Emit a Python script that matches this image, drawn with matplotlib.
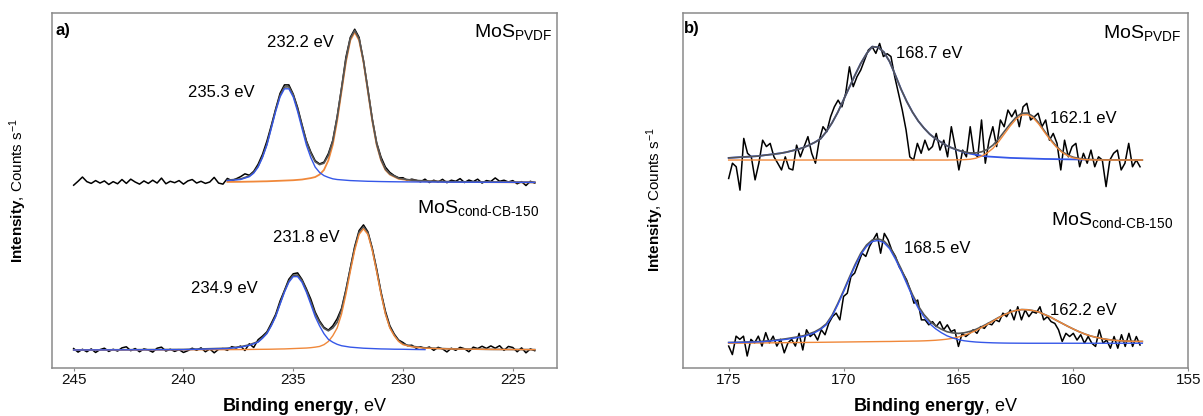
import matplotlib.pyplot as plt
import numpy as np

plt.rcParams['font.family'] = ['Liberation Sans', 'DejaVu Sans']
plt.rcParams['mathtext.fontset'] = 'custom'
plt.rcParams['mathtext.rm'] = 'Liberation Sans'
plt.rcParams['mathtext.bf'] = 'Liberation Sans:bold'
plt.rcParams['mathtext.it'] = 'Liberation Sans:italic'
plt.rcParams['mathtext.default'] = 'regular'

# ----- a) Mo 3d region: intensities above each spectrum's background -----
be_mo = np.linspace(245.0, 224.0, 106)
mo_pvdf_raw = [-0.8, 0.3, 1.5, 0.2, -0.3, 0.5, -0.2, 0.4, -0.6, 0.2, -0.4, 0.8, -0.3, 0.9, 0.1,
               -0.5, 0.4, -0.3, 0.6, -0.2, 1.2, -0.4, 0.3, -0.1, 0.5, -0.5, 0.4, 0.8, -0.2, 0.3,
               -0.3, 0.1, 1.4, -0.2, -0.5,
               1.1, 0.5, 1.0, 1.6, 2.4, 2.0, 3.1, 5.1, 7.9, 11.6, 16.0, 20.7, 25.1, 27.5, 27.5,
               24.9, 21.1, 16.3, 11.7, 8.6, 6.1, 5.2, 5.7, 8.1, 11.8, 18.5, 26.6, 35.3, 40.9, 43.2,
               40.9, 34.2, 26.3, 17.9, 11.2, 7.1, 4.3, 2.8, 1.9, 1.3, 1.3, 0.55, 0.9, 0.6, 0.15,
               0.9, -0.05, 0.6, 0.1, 0.85, -0.1, 0.6, 0.3, 1.05, -0.05, 0.65, 0.2, 0.9, -0.2, 0.5,
               0.25, 1.25, 0.3, 0.6, 0.1, 0.5, -0.4, 0.2, -0.9, 0.3, -0.2]
mo_cb_raw = [0.4, -0.6, 0.2, -0.5, 0.3, -0.7, 0.1, 0.5, -0.4, 0.2, -0.3, 0.6, 0.9, -0.2, 0.4,
             -0.5, 0.3, 0.0, -0.6, 0.5, 0.8, -0.3, 0.2, -0.4, 0.1, -0.7, -0.2, 0.5, -0.1, 0.6,
             -0.5, 0.3, -0.8, 0.2, 0.4,
             -0.1, 0.95, 0.55, 1.1, -0.15, 1.75, 0.7, 2.9, 3.9, 5.1, 7.5, 10.05, 13.8, 16.8, 19.95,
             21.5, 21.75, 19.9, 17.25, 14.35, 10.7, 8.2, 6.4, 5.6, 6.8, 8.8, 11.7, 17.0, 23.1, 29.2,
             33.7, 35.3, 33.35, 28.7, 22.85, 16.3, 10.9, 6.85, 4.5, 2.8, 2.1, 1.2, 1.35, 0.5, 0.9,
             0.4, 0.85, -0.1, 0.75, 0.3, -0.55, 0.5, -0.1, 0.75, 0.35, -0.5, 0.8, 0.4, 1.05, 0.45,
             1.15, 0.5, 1.2, -0.1, 1.0, 0.7, -0.5, 0.6, -0.8, 0.3, -0.2]

be_mo_fit_pvdf = [238.0, 237.4, 237.0, 236.8, 236.6, 236.4, 236.2, 236.0, 235.8, 235.6, 235.4,
                  235.2, 235.0, 234.8, 234.6, 234.4, 234.2, 234.0, 233.8, 233.6, 233.4, 233.2,
                  233.0, 232.8, 232.6, 232.4, 232.2, 232.0, 231.8, 231.6, 231.4, 231.2, 231.0,
                  230.8, 230.6, 230.2, 229.6, 229.0, 228.0, 226.0, 224.0]
mo_pvdf_blue = [0.5, 0.8, 1.6, 2.6, 4.3, 7.0, 10.5, 15.2, 20.0, 24.1, 26.4, 26.4, 24.1, 20.0, 15.2,
                10.5, 7.0, 4.3, 2.8, 1.9, 1.4, 1.0, 0.8, 0.7, 0.6, 0.5, 0.45, 0.4, 0.35, 0.3, 0.28,
                0.25, 0.22, 0.2, 0.18, 0.15, 0.12, 0.1, 0.06, 0.03, 0.0]
mo_pvdf_orange = [0.12, 0.15, 0.2, 0.22, 0.25, 0.28, 0.3, 0.35, 0.4, 0.45, 0.5, 0.55, 0.6, 0.7, 0.8,
                  1.0, 1.2, 1.5, 2.2, 3.5, 6.2, 10.6, 17.4, 25.7, 34.0, 40.1, 42.4, 40.1, 34.0, 25.7,
                  17.4, 10.6, 6.2, 3.5, 2.2, 1.0, 0.5, 0.3, 0.15, 0.05, 0.0]

be_mo_fit_cb = [245.0, 240.0, 238.0, 237.4, 237.0, 236.6, 236.4, 236.2, 236.0, 235.8, 235.6, 235.4,
                235.2, 235.0, 234.8, 234.6, 234.4, 234.2, 234.0, 233.8, 233.6, 233.4, 233.2, 233.0,
                232.8, 232.6, 232.4, 232.2, 232.0, 231.8, 231.6, 231.4, 231.2, 231.0, 230.8, 230.6,
                230.4, 230.2, 230.0, 229.6, 229.0, 228.0, 226.0, 224.0]
mo_cb_blue = [0.0, 0.1, 0.4, 0.8, 1.3, 2.2, 3.3, 4.6, 6.8, 9.4, 12.9, 16.3, 19.1, 20.7, 20.7, 19.1,
              16.3, 12.9, 9.4, 6.8, 4.6, 3.0, 2.2, 1.6, 1.2, 1.0, 0.8, 0.7, 0.6, 0.5, 0.45, 0.4,
              0.35, 0.3, 0.28, 0.25, 0.22, 0.21, 0.2, 0.15, 0.1, 0.05, 0.02, 0.0]
mo_cb_orange = [0.0, 0.05, 0.1, 0.12, 0.15, 0.18, 0.19, 0.2, 0.22, 0.25, 0.28, 0.3, 0.35, 0.4, 0.45,
                0.5, 0.55, 0.65, 0.8, 1.0, 1.5, 2.4, 4.0, 6.2, 10.1, 15.7, 22.1, 28.1, 32.6, 34.2,
                32.6, 28.1, 22.1, 15.7, 10.1, 6.2, 4.0, 2.4, 1.5, 0.9, 0.5, 0.3, 0.15, 0.1]

# ----- b) S 2p region -----
be_s_pvdf = np.linspace(175.0, 157.1, 110)
s_pvdf_raw = [-5.2, -0.9, -1.9, -8.5, 6.1, 1.9, 0.9, -5.6, -0.9, 5.6,
              3.8, 4.7, 0.9, -0.9, -2.8, 0.9, -2.4, -2.8, 4.2, 0.9,
              3.8, 6.6, 1.9, -0.9, 5.6, 9.4, 8.0, 12.2, 15.0, 16.9,
              15.0, 18.8, 26.3, 20.7, 23.5, 25.4, 28.2, 31.0, 32.0, 30.1,
              32.9, 29.2, 30.0, 29.2, 23.5, 18.8, 14.1, 8.5, 0.9, 0.0,
              4.7, 1.9, 5.6, 2.8, 3.8, 7.5, 2.8, 5.6, 0.9, 9.4,
              3.8, -2.8, 2.8, 0.9, 9.4, 1.9, 0.9, 11.3, -0.9, 5.6,
              9.4, 3.8, 11.3, 9.4, 14.1, 12.2, 14.1, 9.4, 15.0, 16.0,
              11.3, 12.2, 13.2, 9.4, 11.3, 5.6, 7.5, 4.7, -2.8, 5.6,
              0.9, 3.8, 4.7, -1.9, 1.9, -0.9, 2.8, -1.9, 0.9, 0.0,
              -7.5, 0.0, 1.9, 2.8, -2.8, -0.9, 4.7, -1.9, 0.0, -1.9]
be_s_cb = np.linspace(175.0, 157.1, 112)
s_cb_raw = [-0.8, -3.2, 2.0, 1.1, 2.0, -3.6, 1.1, 0.1, 2.0, -0.8,
            3.0, 0.1, 2.0, -0.8, 1.1, -2.7, 0.1, 1.1, -0.8, 2.8,
            -1.9, 3.8, 1.9, 2.8, 0.9, 3.8, 2.4, 5.6, 7.5, 8.5,
            6.6, 13.2, 14.1, 18.8, 19.8, 22.6, 25.4, 24.5, 27.3, 29.2,
            31.0, 25.4, 31.0, 29.2, 26.3, 24.5, 21.6, 19.8, 17.9, 15.0,
            11.3, 12.2, 6.6, 6.6, 5.2, 6.1, 4.7, 6.1, 3.8, 5.2,
            3.3, 3.8, -0.9, 2.8, 1.9, 2.8, 3.8, 2.8, 4.7, 4.2,
            5.6, 5.2, 6.6, 6.1, 8.5, 7.5, 9.4, 6.6, 10.3, 6.6,
            9.4, 7.5, 8.9, 8.5, 10.3, 6.6, 7.5, 6.1, 5.6, 3.8,
            0.5, 2.8, 1.9, 2.8, 0.9, 2.4, 0.0, 1.9, 0.0, -0.9,
            3.8, 0.0, 0.9, -1.4, 1.9, -1.4, 2.4, -0.9, 2.8, -0.9,
            1.9, -0.5]

be_s_fit = np.linspace(175.0, 157.0, 73)
s_pvdf_blue = [0.6, 0.7, 0.8, 0.9, 1.0, 1.1, 1.3, 1.5, 1.7, 1.9,
               2.2, 2.6, 3.0, 3.5, 4.2, 5.0, 6.0, 8.0, 10.5, 13.5,
               17.0, 20.5, 24.0, 27.3, 30.0, 32.0, 31.8, 30.5, 27.8, 24.0,
               20.0, 16.5, 13.5, 11.0, 9.0, 7.3, 6.0, 5.0, 4.0, 3.3,
               2.7, 2.2, 1.8, 1.5, 1.2, 1.0, 0.9, 0.8, 0.7, 0.6,
               0.55, 0.5, 0.45, 0.4, 0.35, 0.3, 0.28, 0.25, 0.22, 0.2,
               0.18, 0.15, 0.12, 0.1, 0.08, 0.06, 0.05, 0.04, 0.03, 0.02,
               0.01, 0.0, 0.0]
s_pvdf_orange = [0.0, 0.0, 0.0, 0.0, 0.0, 0.0, 0.0, 0.0, 0.0, 0.0,
                 0.0, 0.0, 0.0, 0.0, 0.0, 0.0, 0.0, 0.0, 0.0, 0.0,
                 0.0, 0.0, 0.0, 0.0, 0.0, 0.0, 0.0, 0.0, 0.0, 0.0,
                 0.0, 0.0, 0.0, 0.0, 0.0, 0.0, 0.0, 0.0, 0.0, 0.03,
                 0.05, 0.1, 0.2, 0.5, 1.1, 2.0, 3.3, 5.2, 7.4, 9.6,
                 11.5, 12.7, 12.8, 11.9, 10.1, 7.8, 5.6, 3.7, 2.2, 1.2,
                 0.6, 0.3, 0.1, 0.05, 0.0, 0.0, 0.0, 0.0, 0.0, 0.0,
                 0.0, 0.0, 0.0]
s_cb_blue = [0.2, 0.22, 0.25, 0.28, 0.32, 0.38, 0.45, 0.6, 0.75, 0.9,
             1.1, 1.35, 1.6, 1.9, 2.4, 3.0, 3.9, 5.2, 7.6, 10.9,
             14.5, 18.2, 21.8, 25.0, 27.3, 28.7, 29.0, 28.4, 26.7, 23.8,
             20.5, 16.8, 13.1, 9.9, 7.4, 5.5, 4.1, 3.0, 2.1, 1.5,
             1.0, 0.7, 0.5, 0.35, 0.25, 0.18, 0.12, 0.08, 0.05, 0.03,
             0.02, 0.01, 0.0, 0.0, 0.0, 0.0, 0.0, 0.0, 0.0, 0.0,
             0.0, 0.0, 0.0, 0.0, 0.0, 0.0, 0.0, 0.0, 0.0, 0.0,
             0.0, 0.0, 0.0]
s_cb_orange = [0.0, 0.02, 0.03, 0.05, 0.06, 0.08, 0.1, 0.11, 0.13, 0.15,
               0.17, 0.19, 0.2, 0.22, 0.24, 0.25, 0.27, 0.29, 0.31, 0.33,
               0.35, 0.37, 0.39, 0.41, 0.43, 0.45, 0.47, 0.49, 0.5, 0.53,
               0.56, 0.58, 0.61, 0.63, 0.68, 0.75, 0.84, 0.98, 1.15, 1.42,
               1.78, 2.25, 2.85, 3.55, 4.4, 5.3, 6.25, 7.2, 8.05, 8.75,
               9.25, 9.5, 9.45, 9.2, 8.8, 8.1, 7.4, 6.5, 5.65, 4.8,
               4.0, 3.25, 2.6, 2.05, 1.65, 1.3, 1.05, 0.85, 0.72, 0.62,
               0.56, 0.52, 0.5]

mo_peaks = ['235.3 eV', '232.2 eV', '234.9 eV', '231.8 eV']
s_peaks = ['168.7 eV', '162.1 eV', '168.5 eV', '162.2 eV']

BLUE = '#3557e8'
ORANGE = '#f0883a'
GRAY = '#555555'
FRAME = '#8a8a8a'


def draw(ax, x_raw, raw, x_fit, blue, orange, base, blue_end=None,
         blue_under=False, orange_under=False):
    x_fit = np.asarray(x_fit)
    blue = np.asarray(blue)
    orange = np.asarray(orange)
    ax.plot(x_raw, np.asarray(raw) + base, color='black', lw=1.1, zorder=2)
    ax.plot(x_fit, blue + orange + base, color=GRAY, lw=1.2, zorder=3)
    ax.plot(x_fit, orange + base, color=ORANGE, lw=1.3 if orange_under else 1.0,
            zorder=2.5 if orange_under else 4)
    m = x_fit >= (blue_end if blue_end is not None else -1)
    ax.plot(x_fit[m], blue[m] + base, color=BLUE, lw=1.3 if blue_under else 1.0,
            zorder=2.5 if blue_under else 5)


fig = plt.figure(figsize=(12.03, 4.16), dpi=100)
ax_a = fig.add_axes([0.04298, 0.1161, 0.41978, 0.85192])
ax_b = fig.add_axes([0.56750, 0.1161, 0.42028, 0.85192])

draw(ax_a, be_mo, mo_pvdf_raw, be_mo_fit_pvdf, mo_pvdf_blue, mo_pvdf_orange, 52.3,
     orange_under=True)
draw(ax_a, be_mo, mo_cb_raw, be_mo_fit_cb, mo_cb_blue, mo_cb_orange, 5.0, blue_end=229.0)
draw(ax_b, be_s_pvdf, s_pvdf_raw, be_s_fit, s_pvdf_blue, s_pvdf_orange, 58.6,
     blue_end=159.5, blue_under=True)
draw(ax_b, be_s_cb, s_cb_raw, be_s_fit, s_cb_blue, s_cb_orange, 6.9)

ax_a.set_xlim(246.0, 223.0)
ax_b.set_xlim(177.0, 155.0)
ax_a.set_xticks([245, 240, 235, 230, 225])
ax_b.set_xticks([175, 170, 165, 160, 155])

for ax in (ax_a, ax_b):
    ax.set_ylim(0, 100)
    ax.set_yticks([])
    for s in ax.spines.values():
        s.set_color(FRAME)
        s.set_linewidth(1.1)
    ax.tick_params(axis='x', direction='out', length=2.5, width=0.8, color=FRAME,
                   labelsize=11, pad=1.5, labelcolor='#111111')

# peak positions
ax_a.text(238.28, 76.4, mo_peaks[0], fontsize=12, ha='center', va='baseline')
ax_a.text(234.69, 90.5, mo_peaks[1], fontsize=12, ha='center', va='baseline')
ax_a.text(238.14, 21.1, mo_peaks[2], fontsize=12, ha='center', va='baseline')
ax_a.text(234.41, 35.5, mo_peaks[3], fontsize=12, ha='center', va='baseline')
ax_b.text(166.26, 87.4, s_peaks[0], fontsize=12, ha='center', va='baseline')
ax_b.text(159.57, 69.0, s_peaks[1], fontsize=12, ha='center', va='baseline')
ax_b.text(165.91, 32.4, s_peaks[2], fontsize=12, ha='center', va='baseline')
ax_b.text(159.57, 14.9, s_peaks[3], fontsize=12, ha='center', va='baseline')

# sample names
cb_sub = r'MoS$_{cond' + '\u2010' + 'CB' + '\u2010' + '150}$'
ax_a.text(0.99, 0.934, r'MoS$_{PVDF}$', transform=ax_a.transAxes, fontsize=14,
          ha='right', va='baseline')
ax_a.text(0.965, 0.436, cb_sub, transform=ax_a.transAxes, fontsize=14,
          ha='right', va='baseline')
ax_b.text(0.985, 0.929, r'MoS$_{PVDF}$', transform=ax_b.transAxes, fontsize=14,
          ha='right', va='baseline')
ax_b.text(0.970, 0.403, cb_sub, transform=ax_b.transAxes, fontsize=14,
          ha='right', va='baseline')

ax_a.text(0.007, 0.939, 'a)', transform=ax_a.transAxes, fontsize=12, fontweight='bold',
          ha='left', va='baseline')
ax_b.text(0.002, 0.944, 'b)', transform=ax_b.transAxes, fontsize=12, fontweight='bold',
          ha='left', va='baseline')

ylab = r'$\mathbf{Intensity}$, Counts s$^{-1}$'
fig.text(18.2 / 1203, (416 - 190) / 416, ylab, rotation=90, fontsize=11, ha='center', va='center')
fig.text(655 / 1203, (416 - 199) / 416, ylab, rotation=90, fontsize=11, ha='center', va='center')

xlab = r'$\mathbf{Binding\ energy}$, eV'
fig.text(304.2 / 1203, 5 / 416, xlab, fontsize=13, ha='center', va='baseline')
fig.text(935.5 / 1203, 5 / 416, xlab, fontsize=13, ha='center', va='baseline')

fig.savefig('out.png', dpi=100)
